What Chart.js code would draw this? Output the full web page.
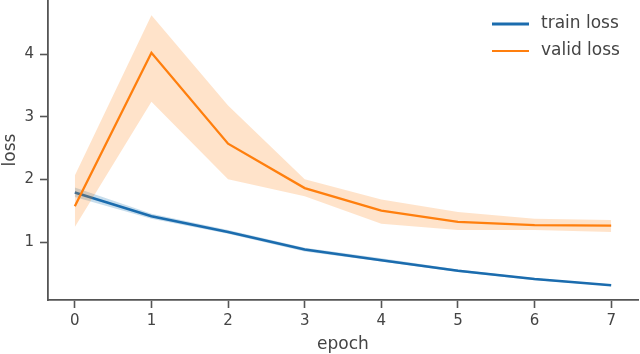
<!DOCTYPE html>
<html>
<head>
<meta charset="utf-8">
<script src="https://cdn.jsdelivr.net/npm/chart.js@4.4.1/dist/chart.umd.min.js"></script>
<style>
  html, body { margin: 0; padding: 0; background: #fff; }
  #wrap { width: 640px; height: 354px; }
</style>
</head>
<body>
<div id="wrap"><canvas id="chart"></canvas></div>
<script>
// values
const epochs = [0, 1, 2, 3, 4, 5, 6, 7];
const trainLoss = [1.79, 1.41, 1.16, 0.88, 0.71, 0.54, 0.41, 0.31];
const trainLow  = [1.72, 1.37, 1.13, 0.85, 0.69, 0.52, 0.39, 0.30];
const trainHigh = [1.87, 1.45, 1.19, 0.91, 0.74, 0.56, 0.42, 0.32];
const validLoss = [1.57, 4.02, 2.57, 1.86, 1.50, 1.32, 1.27, 1.26];
const validLow  = [1.24, 3.24, 2.00, 1.73, 1.29, 1.19, 1.19, 1.16];
const validHigh = [2.06, 4.62, 3.18, 2.00, 1.68, 1.48, 1.37, 1.35];
const xTicks = [0, 1, 2, 3, 4, 5, 6, 7];
const yTicks = [1, 2, 3, 4];

const BLUE = '#1b6cae';
const ORANGE = '#ff7f0e';
const TXT = '#444';
const FONT = 'DejaVu Sans';

const pts = arr => arr.map((v, i) => ({x: epochs[i], y: v}));

const band = (lo, hi, fillCol, ord) => [
  {label: '_lo', data: pts(lo), borderWidth: 0, pointRadius: 0, fill: false, order: ord},
  {label: '_hi', data: pts(hi), borderWidth: 0, pointRadius: 0, fill: '-1',
   backgroundColor: fillCol, order: ord}
];

const datasets = [
  ...band(trainLow, trainHigh, 'rgba(31,119,180,0.25)', 4),
  {label: 'train loss', data: pts(trainLoss), borderColor: BLUE, borderWidth: 2.5,
   pointRadius: 0, fill: false, order: 3},
  ...band(validLow, validHigh, 'rgba(255,127,14,0.22)', 2),
  {label: 'valid loss', data: pts(validLoss), borderColor: ORANGE, borderWidth: 2.3,
   pointRadius: 0, fill: false, order: 1}
];

// legend drawn by hand in the top right corner
const legendPlugin = {
  id: 'miniLegend',
  afterDraw(chart) {
    const ctx = chart.ctx;
    const items = chart.data.datasets.filter(d => !d.label.startsWith('_'));
    ctx.save();
    ctx.font = '17px "' + FONT + '"';
    ctx.textBaseline = 'middle';
    items.forEach((d, i) => {
      const y = 24 + i * 27;
      ctx.strokeStyle = d.borderColor;
      ctx.lineWidth = i == 0 ? 2.8 : 2.2;
      ctx.beginPath();
      ctx.moveTo(492, y);
      ctx.lineTo(529, y);
      ctx.stroke();
      ctx.fillStyle = TXT;
      ctx.fillText(d.label, 541, y);
    });
    ctx.restore();
  }
};

new Chart(document.getElementById('chart'), {
  type: 'line',
  data: {datasets},
  plugins: [legendPlugin],
  options: {
    responsive: true,
    maintainAspectRatio: false,
    animation: false,
    layout: {padding: {top: 0, right: 2, left: 0, bottom: 0}},
    plugins: {legend: {display: false}, tooltip: {enabled: false}},
    elements: {line: {tension: 0}},
    scales: {
      x: {
        type: 'linear',
        min: -0.35,
        max: 7.35,
        afterBuildTicks: s => { s.ticks = xTicks.map(v => ({value: v})); },
        afterFit: s => { s.height = 54; s.paddingLeft = 0; s.paddingRight = 0; },
        grid: {drawOnChartArea: false, tickLength: 8, tickWidth: 1.6, tickColor: '#555'},
        border: {color: '#555', width: 1.8},
        ticks: {color: TXT, padding: 4, font: {family: FONT, size: 15}},
        title: {display: true, text: 'epoch', color: TXT, padding: {top: 0, bottom: -1},
                font: {family: FONT, size: 17}}
      },
      y: {
        min: 0.0745,
        max: 4.862,
        afterBuildTicks: s => { s.ticks = yTicks.map(v => ({value: v})); },
        afterFit: s => { s.width = 48; s.paddingTop = 0; s.paddingBottom = 0; },
        grid: {drawOnChartArea: false, tickLength: 8, tickWidth: 1.6, tickColor: '#555'},
        border: {color: '#555', width: 1.8},
        ticks: {color: TXT, padding: 6, font: {family: FONT, size: 15}},
        title: {display: true, text: 'loss', color: TXT, padding: {top: 0, bottom: 0},
                font: {family: FONT, size: 17}}
      }
    }
  }
});
</script>
</body>
</html>
